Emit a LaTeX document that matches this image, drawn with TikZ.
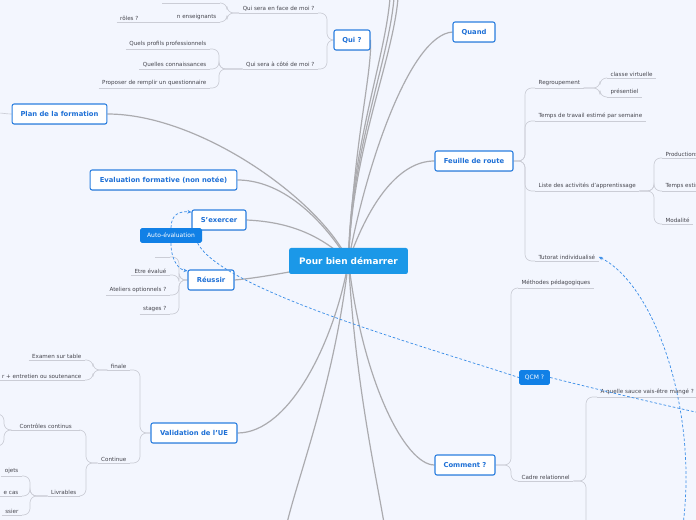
\documentclass[tikz,border=0pt]{standalone}
\usepackage{fontspec}
\setmainfont{DejaVu Sans}
\usetikzlibrary{arrows.meta,shadows}
\definecolor{bgc}{HTML}{F3F6FE}
\definecolor{nblue}{HTML}{2B7FE0}
\definecolor{ntext}{HTML}{1E70D6}
\definecolor{rootc}{HTML}{1B98E8}
\definecolor{fillb}{HTML}{1180E6}
\definecolor{mainl}{HTML}{ABABAF}
\definecolor{subl}{HTML}{CBCDD6}
\definecolor{leaft}{HTML}{45454D}
\definecolor{dashc}{HTML}{3D8FE8}
\pgfdeclarelayer{edges}
\pgfsetlayers{edges,main}
\begin{document}
\begin{tikzpicture}[x=0.75pt,y=-0.75pt,
 mbox/.style={draw=nblue, line width=0.8pt, fill=white, rounded corners=1.5pt, text=ntext,
   font=\fontsize{5.1}{6}\selectfont\bfseries, inner sep=0pt, minimum height=15pt,
   drop shadow={opacity=0.2,shadow xshift=0.3pt,shadow yshift=-0.5pt}},
 fbox/.style={fill=fillb, rounded corners=1.2pt, text=white, font=\fontsize{4.5}{5}\selectfont,
   inner sep=0pt, minimum height=11pt},
 subline/.style={draw=subl, line width=0.5pt},
 leaf/.style={text=leaft, font=\fontsize{4.2}{5}\selectfont, inner xsep=2.5pt, inner ysep=1.2pt,
   append after command={(\tikzlastnode.south west) edge[subline] (\tikzlastnode.south east)}},
 mainline/.style={draw=mainl, line width=0.9pt},
 br/.style={draw=subl, line width=0.5pt, rounded corners=5pt},
 dlink/.style={draw=dashc, line width=0.55pt, dash pattern=on 2pt off 1.5pt},
 tip/.style={-{Stealth[length=3pt,width=2.6pt]}},
]
\useasboundingbox (0,0) rectangle (696,520);

% root and main boxes
\node[fill=rootc, rounded corners=1.5pt, text=white, font=\fontsize{6.7}{8}\selectfont\bfseries,
  minimum width=89pt, minimum height=19.5pt, inner sep=0pt] (root) at (348.5,261) {Pour bien démarrer};
\node[mbox, minimum width=27pt] (qui) at (352,40) {Qui ?};
\node[mbox, minimum width=31.5pt] (quand) at (474,32) {Quand};
\node[mbox, minimum width=71pt] (plan) at (59.5,114) {Plan de la formation};
\node[mbox, minimum width=110pt] (eval) at (163.5,180) {Evaluation formative (non notée)};
\node[mbox, minimum width=40.5pt] (sex) at (219,220) {S'exercer};
\node[mbox, minimum width=34.5pt] (reu) at (211,280) {Réussir};
\node[mbox, minimum width=58.5pt] (feuille) at (474,161) {Feuille de route};
\node[mbox, minimum width=64.5pt] (valid) at (194,433) {Validation de l'UE};
\node[mbox, minimum width=45pt] (comment) at (465,465) {Comment ?};
\node[fbox, minimum width=46.5pt] (auto) at (171,235.5) {Auto-évaluation};
\node[fbox, minimum width=23pt] (qcm) at (534.5,377.5) {QCM ?};

% Qui children
\node[leaf, anchor=south east] (face) at (318,13) {Qui sera en face de moi ?};
\node[leaf, anchor=south east] (cote) at (318,69) {Qui sera à côté de moi ?};
\node[leaf, anchor=south east, minimum width=43pt] (fx) at (220,3) {};
\node[leaf, anchor=south east] (ne) at (220,22) {n enseignants};
\node[leaf, anchor=south east] (roles) at (142,22) {rôles ?};
\node[leaf, anchor=south east] (q1) at (210,49) {Quels profils professionnels};
\node[leaf, anchor=south east] (q2) at (210,69) {Quelles connaissances};
\node[leaf, anchor=south east] (q3) at (210,88) {Proposer de remplir un questionnaire};

% Reussir children
\node[leaf, anchor=south east, minimum width=11pt] (rs) at (170,257) {};
\node[leaf, anchor=south east] (r1) at (170,275) {Etre évalué};
\node[leaf, anchor=south east] (r2) at (170,295) {Ateliers optionnels ?};
\node[leaf, anchor=south east] (r3) at (170,314) {stages ?};

% Validation children
\node[leaf, anchor=south east] (finale) at (130,370) {finale};
\node[leaf, anchor=south east] (ex) at (85,360) {Examen sur table};
\node[leaf, anchor=south east] (sout) at (85,380) {r + entretien ou soutenance};
\node[leaf, anchor=south east] (cont) at (130,463) {Continue};
\node[leaf, anchor=south east, minimum width=51pt] (cc) at (80,430) {Contrôles continus};
\node[leaf, anchor=south east] (liv) at (80,496) {Livrables};
\node[leaf, anchor=south east] (l1) at (22,476) {ojets};
\node[leaf, anchor=south east] (l2) at (22,496) {e cas};
\node[leaf, anchor=south east] (l3) at (22,515) {ssier};

% Feuille de route children
\node[leaf, anchor=south west] (reg) at (535,88) {Regroupement};
\node[leaf, anchor=south west] (cv) at (607,78) {classe virtuelle};
\node[leaf, anchor=south west] (pres) at (607,97) {présentiel};
\node[leaf, anchor=south west] (temps) at (535,121) {Temps de travail estimé par semaine};
\node[leaf, anchor=south west] (liste) at (535,191) {Liste des activités d'apprentissage};
\node[leaf, anchor=south west] (prod) at (662,158) {Productions};
\node[leaf, anchor=south west] (te) at (662,191) {Temps estimé};
\node[leaf, anchor=south west] (mod) at (662,224) {Modalité};
\node[leaf, anchor=south west] (tut) at (535,261) {Tutorat individualisé};

% Comment children
\node[leaf, anchor=south west] (meth) at (518,288) {Méthodes pédagogiques};
\node[leaf, anchor=south west] (cadre) at (518,481) {Cadre relationnel};
\node[leaf, anchor=south west] (sauce) at (597,397) {A quelle sauce vais-être mangé ?};

% free ends
\coordinate (t1) at (390,-2);
\coordinate (t2) at (394,-2);
\coordinate (t3) at (398,-2);
\coordinate (b1) at (287,523);
\coordinate (b2) at (384,523);
\coordinate (planl) at (-2,113);
\coordinate (qo) at (700,413);
\coordinate (tb) at (683,525);
\coordinate (cadb) at (586,525);

\begin{pgfonlayer}{edges}
\fill[bgc] (0,0) rectangle (696,520);
% root connectors
\draw[mainline] (root.center) .. controls (354,140) and (372,75) .. (qui.east);
\draw[mainline] (root.center) .. controls (350,150) and (385,60) .. (t1);
\draw[mainline] (root.center) .. controls (351,150) and (389,60) .. (t2);
\draw[mainline] (root.center) .. controls (352,150) and (393,60) .. (t3);
\draw[mainline] (root.center) .. controls (366,165) and (410,35) .. (quand.west);
\draw[mainline] (root.center) .. controls (370,200) and (400,161) .. (feuille.west);
\draw[mainline] (root.center) .. controls (320,200) and (200,114) .. (plan.east);
\draw[mainline] (root.center) .. controls (320,215) and (280,180) .. (eval.east);
\draw[mainline] (root.center) .. controls (320,235) and (290,222) .. (sex.east);
\draw[mainline] (root.center) .. controls (300,270) and (260,278) .. (reu.east);
\draw[mainline] (root.center) .. controls (335,340) and (290,433) .. (valid.east);
\draw[mainline] (root.center) .. controls (362,380) and (405,465) .. (comment.west);
\draw[mainline] (root.center) .. controls (335,380) and (300,470) .. (b1);
\draw[mainline] (root.center) .. controls (355,380) and (375,470) .. (b2);
% sub connectors
\draw[br] (qui.west) -- (327,40) |- (face.south east);
\draw[br] (qui.west) -- (327,40) |- (cote.south east);
\draw[br] (face.south west) -- (227,13) |- (ne.south east);
\draw[br] (face.south west) -- (227,13) |- (fx.south east);
\draw[subline] (ne.south west) -- (roles.south east);
\draw[br] (cote.south west) -- (219,69) |- (q1.south east);
\draw[br] (cote.south west) -- (219,69) |- (q2.south east);
\draw[br] (cote.south west) -- (219,69) |- (q3.south east);
\draw[br] (reu.west) -- (179,280) |- (rs.south east);
\draw[br] (reu.west) -- (179,280) |- (r1.south east);
\draw[br] (reu.west) -- (179,280) |- (r2.south east);
\draw[br] (reu.west) -- (179,280) |- (r3.south east);
\draw[br] (valid.west) -- (140,433) |- (finale.south east);
\draw[br] (valid.west) -- (140,433) |- (cont.south east);
\draw[br] (finale.south west) -- (93,370) |- (ex.south east);
\draw[br] (finale.south west) -- (93,370) |- (sout.south east);
\draw[br] (cont.south west) -- (86,463) |- (cc.south east);
\draw[br] (cont.south west) -- (86,463) |- (liv.south east);
\draw[br] (liv.south west) -- (30,496) |- (l1.south east);
\draw[br] (liv.south west) -- (30,496) |- (l2.south east);
\draw[br] (liv.south west) -- (30,496) |- (l3.south east);
\draw[br] (cc.south west) -- (4,430) |- (-4,414);
\draw[br] (cc.south west) -- (4,430) |- (-4,446);
\draw[subline] (plan.west) .. controls (6,114) and (3,113) .. (planl);
\draw[br] (feuille.east) -- (525,161) |- (reg.south west);
\draw[br] (feuille.east) -- (525,161) |- (temps.south west);
\draw[br] (feuille.east) -- (525,161) |- (liste.south west);
\draw[br] (feuille.east) -- (525,161) |- (tut.south west);
\draw[br] (reg.south east) -- (600,88) |- (cv.south west);
\draw[br] (reg.south east) -- (600,88) |- (pres.south west);
\draw[br] (liste.south east) -- (654,191) |- (prod.south west);
\draw[br] (liste.south east) -- (654,191) |- (te.south west);
\draw[br] (liste.south east) -- (654,191) |- (mod.south west);
\draw[br] (comment.east) -- (511,465) |- (meth.south west);
\draw[br] (comment.east) -- (511,465) |- (cadre.south west);
\draw[br] (cadre.south east) -- (586,481) |- (sauce.south west);
\draw[br] (cadre.south east) -- (586,481) -- (cadb);
\end{pgfonlayer}

% dashed links
\draw[dlink, tip] (auto.north) .. controls (171,214) and (180,211) .. ([yshift=-2pt]sex.north west);
\draw[dlink, tip] (auto.south) .. controls (171,262) and (180,270) .. ([yshift=-1pt]reu.north west);
\draw[dlink] ([xshift=-3.5pt]auto.south east) .. controls (222,290) and (420,345) .. (qcm.west);
\draw[dlink] (qcm.east) .. controls (600,390) and (650,402) .. (qo);
\draw[dlink, tip] (tb) .. controls (698,410) and (655,285) .. (tut.east);
\end{tikzpicture}
\end{document}
